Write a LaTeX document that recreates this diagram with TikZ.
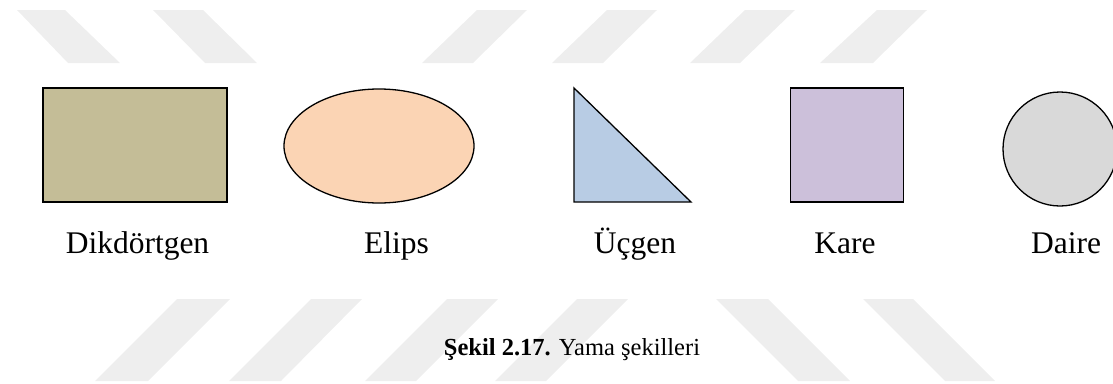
\documentclass[tikz,border=0pt]{standalone}
\usepackage{fontspec}
\setmainfont{Liberation Serif}
\usetikzlibrary{shapes.geometric}
\definecolor{stripe}{HTML}{EEEEEE}
\definecolor{tanfill}{HTML}{C4BD97}
\definecolor{peach}{HTML}{FBD4B4}
\definecolor{lblue}{HTML}{B8CCE4}
\definecolor{lilac}{HTML}{CCC0DA}
\definecolor{lgray}{HTML}{D9D9D9}
\tikzset{
  shapebox/.style={draw=black, line width=1.6pt, inner sep=0pt, outer sep=0pt},
  shapecurve/.style={draw=black, line width=1.3pt, inner sep=0pt, outer sep=0pt},
  lbl/.style={anchor=base, inner sep=0pt, font=\fontsize{31.5}{36}\selectfont},
  captiontext/.style={anchor=base, inner sep=0pt, font=\fontsize{24.5}{28}\selectfont},
  wm/.style={fill=stripe, draw=none}
}
\begin{document}
\begin{tikzpicture}[x=1pt,y=-1pt]
\useasboundingbox (0,0) rectangle (1113,383);
\clip (0,0) rectangle (1113,383);
% watermark stripes (top)
\fill[wm] (17,10) -- (65,10) -- (120,63) -- (68,63) -- cycle;
\fill[wm] (153,10) -- (203,10) -- (257,63) -- (205,63) -- cycle;
\fill[wm] (477,10) -- (527,10) -- (473,63) -- (422,63) -- cycle;
\fill[wm] (607,10) -- (657,10) -- (603,63) -- (552,63) -- cycle;
\fill[wm] (745,10) -- (795,10) -- (740,63) -- (690,63) -- cycle;
\fill[wm] (877,10) -- (927,10) -- (873,63) -- (820,63) -- cycle;
% watermark stripes (bottom)
\fill[wm] (177,299) -- (230,299) -- (148,381) -- (95,381) -- cycle;
\fill[wm] (311,299) -- (362,299) -- (281,381) -- (229,381) -- cycle;
\fill[wm] (447,299) -- (498,299) -- (416,381) -- (365,381) -- cycle;
\fill[wm] (577,299) -- (628,299) -- (546,381) -- (495,381) -- cycle;
\fill[wm] (716,299) -- (768,299) -- (850,381) -- (798,381) -- cycle;
\fill[wm] (863,299) -- (913,299) -- (995,381) -- (945,381) -- cycle;
% shapes
\node[shapebox, fill=tanfill, rectangle, minimum width=184pt, minimum height=114pt] (rect) at (135,145) {};
\node[shapecurve, fill=peach, ellipse, minimum width=190pt, minimum height=114pt] (ell) at (379,146) {};
\coordinate (ta) at (574,88);
\coordinate (tb) at (574,202);
\coordinate (tc) at (691,202);
\filldraw[fill=lblue, draw=black, line width=1.3pt, line join=miter] (ta) -- (tb) -- (tc) -- cycle;
\node[shapebox, fill=lilac, rectangle, minimum width=113pt, minimum height=114pt] (sq) at (847,145) {};
\node[shapecurve, fill=lgray, circle, minimum size=114pt] (circ) at (1060,149) {};
% labels
\node[lbl] (l1) at (137.5,253) {Dikdörtgen};
\node[lbl] (l2) at (396.5,253) {Elips};
\node[lbl] (l3) at (635,253) {Üçgen};
\node[lbl] (l4) at (845,253) {Kare};
\node[lbl] (l5) at (1066,253) {Daire};
% caption
\node[captiontext] (caption) at (572,355) {\textbf{Şekil 2.17.} Yama şekilleri};
\end{tikzpicture}
\end{document}
